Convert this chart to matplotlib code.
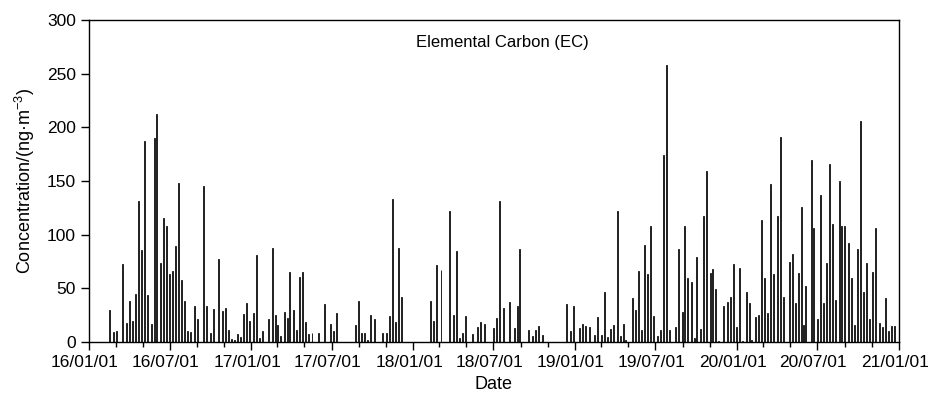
import numpy as np
import pandas as pd
import matplotlib
matplotlib.use("Agg")
import matplotlib.pyplot as plt
import matplotlib.dates as mdates
import matplotlib.transforms as mtransforms

plt.rcParams['font.family'] = ['Liberation Sans', 'DejaVu Sans']
plt.rcParams['mathtext.default'] = 'regular'

# sampling days, counted from 2016-01-01, and EC concentration (ng/m3)
start = pd.Timestamp('2016-01-01')
day_2016 = [47, 56, 63, 76, 84, 91, 99, 105, 112, 119, 126, 132, 140, 147, 153, 161, 168, 174,
            182, 188, 196, 202, 209, 216, 223, 230, 238, 245, 259, 266, 273, 280, 293, 301, 307, 314,
            322, 329, 335, 342, 349, 356, 363]
ec_2016 = [30, 9, 10, 73, 18, 38, 20, 45, 131, 86, 187, 44, 17, 190, 212, 74, 116, 108,
           63, 66, 89, 148, 58, 38, 10, 9.5, 34, 21, 145, 34, 8, 31, 77, 29, 32, 11.5,
           2.5, 1.6, 7, 4.4, 26, 36, 20]
day_2017 = [370, 377, 385, 392, 405, 413, 420, 426, 433, 440, 447, 453, 461, 468, 475, 482, 489,
            496, 503, 517, 531, 545, 552, 559, 601, 608, 615, 622, 629, 636, 643, 663, 671, 677,
            685, 692, 699, 705]
ec_2017 = [27, 81, 3.7, 10.6, 21, 88, 25, 15.6, 6, 28, 22, 65, 30, 11.5, 61, 65, 19,
           7, 8, 8, 35, 17, 10, 27, 15.6, 38.6, 8, 8, 1.6, 25, 21, 8, 8.4, 24,
           133, 18.7, 88, 42]
day_2018 = [771, 777, 784, 794, 814, 822, 828, 836, 843, 850, 864, 877, 884, 891, 913, 920,
            927, 934, 948, 959, 967, 971, 991, 1000, 1008, 1014, 1022, 1078, 1086, 1093]
ec_2018 = [38, 20, 71.5, 67.5, 122, 25.5, 85, 3.5, 8.4, 24, 7.5, 14, 19, 17, 13.4, 22,
           131, 32, 37, 13.4, 34, 86.5, 11.5, 6, 11, 15, 6.5, 35, 10.6, 33.6]
day_2019 = [1107, 1114, 1120, 1128, 1141, 1148, 1156, 1162, 1170, 1177, 1184, 1191, 1198, 1205,
            1211, 1226, 1233, 1240, 1247, 1253, 1260, 1267, 1274, 1282, 1289, 1295, 1303, 1310,
            1323, 1330, 1338, 1344, 1351, 1358, 1365, 1371, 1379, 1386, 1393, 1401, 1407, 1414,
            1420, 1432, 1440, 1447, 1454, 1461]
ec_2019 = [13, 16.5, 15, 14, 6.5, 23.6, 6.5, 47, 5, 12.4, 16, 122, 5.6, 16.5,
           1.5, 41.4, 30, 66, 11.5, 90, 63, 108, 24, 6, 11, 174, 258, 11.5,
           13.7, 86.5, 28, 108.5, 60, 56, 3.7, 79, 12, 117, 159, 64, 68.4, 49.4,
           1, 33.6, 37, 42.3, 72.5, 14.3]
day_2020 = [1468, 1475, 1482, 1489, 1495, 1503, 1510, 1517, 1524, 1531, 1538, 1545, 1552, 1559,
            1566, 1579, 1587, 1594, 1601, 1608, 1611, 1617, 1629, 1635, 1643, 1650, 1657, 1664,
            1671, 1677, 1684, 1692, 1698, 1705, 1713, 1719, 1726, 1733, 1741, 1747, 1754, 1761,
            1768, 1775, 1782, 1789, 1796, 1804, 1811, 1817]
ec_2020 = [68.7, 1, 47, 36.4, 2, 23.6, 25.5, 114, 60, 27.4, 147, 63, 117, 191,
           42.3, 75, 82.4, 36.7, 64, 126, 15.6, 52, 170, 106, 21, 137, 36.4, 74,
           166, 110, 39, 150, 108.5, 108, 92, 60, 15.6, 87, 206, 47, 73.7, 21.5,
           65, 106, 18, 14, 41.4, 10.6, 15.3, 15]

days = day_2016 + day_2017 + day_2018 + day_2019 + day_2020
ec = ec_2016 + ec_2017 + ec_2018 + ec_2019 + ec_2020
dates = start + pd.to_timedelta(days, unit='D')

fig = plt.figure(figsize=(9.31, 3.93), dpi=100)
ax = fig.add_axes([0.0956, 0.1298, 0.87, 0.8192])

ax.bar(dates, ec, width=2.2, color='#d0d0d0', edgecolor='black', linewidth=0.6, align='center')

ax.set_xlim(pd.Timestamp('2016-01-01'), pd.Timestamp('2021-01-01'))
ax.set_ylim(0, 300)
ax.set_yticks(np.arange(0, 301, 50))
ax.xaxis.set_major_locator(mdates.MonthLocator(bymonth=[1, 7]))
ax.xaxis.set_minor_locator(mdates.MonthLocator(bymonth=[3, 5, 9, 11]))
ax.xaxis.set_major_formatter(mdates.DateFormatter('%y/%m/%d'))

ax.tick_params(axis='both', which='major', direction='out', length=6, width=1, labelsize=12.5)
ax.tick_params(axis='x', which='minor', direction='out', length=3.5, width=1)
for s in ax.spines.values():
    s.set_linewidth(1)

# date labels sit a little left of their ticks in the original
shift = mtransforms.ScaledTranslation(-4 / 100, 0, fig.dpi_scale_trans)
for lab in ax.get_xticklabels():
    lab.set_transform(lab.get_transform() + shift)

ax.set_xlabel('Date', fontsize=13, labelpad=4)
ax.set_ylabel('Concentration/(ng·m$^{-3}$)', fontsize=13, labelpad=7)
ax.text(0.51, 0.93, 'Elemental Carbon (EC)', transform=ax.transAxes, ha='center', va='center',
        fontsize=12)

fig.savefig('out.png', dpi=100)
